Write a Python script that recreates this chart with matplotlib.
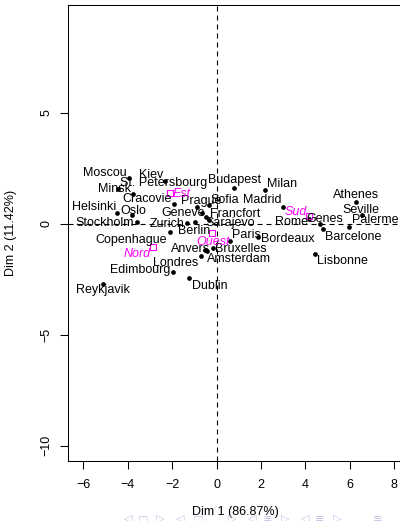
import matplotlib
matplotlib.use("Agg")
import matplotlib.pyplot as plt

plt.rcParams["font.family"] = ["Liberation Sans", "DejaVu Sans"]

# Individuals factor map: cities on the first two PCA dimensions
cities = ["Moscou", "Minsk", "Kiev", "St. Petersbourg", "Helsinki", "Oslo",
          "Stockholm", "Cracovie", "Prague", "Sofia", "Geneve", "Francfort",
          "Sarajevo", "Zurich", "Berlin", "Copenhague", "Bruxelles", "Anvers",
          "Londres", "Amsterdam", "Edimbourg", "Dublin", "Reykjavik",
          "Budapest", "Milan", "Madrid", "Paris", "Bordeaux", "Rome", "Genes",
          "Barcelone", "Palerme", "Athenes", "Seville", "Lisbonne"]
dim1 = [-3.95, -4.45, -3.75, -2.32, -4.49, -3.80,
        -3.60, -1.90, -0.87, -0.36, -0.67, -0.48,
        -0.33, -1.35, -0.97, -2.10, -0.18, -0.52,
        -0.70, -0.45, -1.95, -1.23, -5.13,
        0.80, 2.18, 3.01, 0.58, 1.88, 4.18, 4.66,
        4.78, 5.98, 6.27, 6.53, 4.43]
dim2 = [2.05, 1.55, 1.34, 1.92, 0.48, 0.37,
        0.08, 0.87, 0.74, 0.84, 0.48, 0.29,
        0.18, 0.03, 0.06, -0.39, -1.08, -1.18,
        -1.44, -1.25, -2.16, -2.46, -2.73,
        1.62, 1.52, 0.75, -0.76, -0.62, 0.23, -0.01,
        -0.25, -0.15, 0.98, 0.37, -1.38]

# Supplementary categories (area barycentres)
areas = ["Est", "Nord", "Ouest", "Sud"]
area_dim1 = [-2.10, -2.85, -0.19, 4.15]
area_dim2 = [1.38, -1.04, -0.44, 0.33]

xticks = [-6, -4, -2, 0, 2, 4, 6, 8]
yticks = [-10, -5, 0, 5]
xlabel = "Dim 1 (86.87%)"
ylabel = "Dim 2 (11.42%)"

# Label placement (pixel offsets of the text's left/baseline from its point)
city_label_offset = {
    "Moscou": (-46.3, 2.3), "Kiev": (5.7, 15.7), "St. Petersbourg": (-45, -4.7),
    "Minsk": (-19.4, -2.4), "Cracovie": (-51.8, 2.0), "Helsinki": (-45.3, 3.0),
    "Oslo": (-12.3, 1.5), "Stockholm": (-61.7, -3.7), "Prague": (-16.6, 3.6),
    "Sofia": (1.5, 2.3), "Geneve": (-40, -2.7), "Francfort": (4, 0),
    "Sarajevo": (-4.3, -6.3), "Zurich": (-36.7, -3.7), "Berlin": (-16.7, -11.7),
    "Copenhague": (-75, -10.4), "Anvers": (-34, -1.7), "Bruxelles": (2.3, -4),
    "Londres": (-47.7, -10), "Amsterdam": (0.2, -10.2), "Edimbourg": (-63.3, -1.6),
    "Dublin": (2.4, -11), "Reykjavik": (-26.7, -9), "Budapest": (-26, 4.4),
    "Milan": (1.7, 3.3), "Madrid": (-40.2, 3.7), "Paris": (2.2, 2.2),
    "Bordeaux": (2.4, -4.2), "Rome": (-34.5, -6.5), "Genes": (-13.3, 2.3),
    "Barcelone": (2.3, -10.7), "Palerme": (2.4, 3.7), "Athenes": (-22.7, 3.7),
    "Seville": (-18.8, 2.2), "Lisbonne": (1.7, -9.7),
}
area_label_offset = {
    "Est": (2.7, -4.3), "Nord": (-29.3, -10), "Ouest": (-16.3, -11.2),
    "Sud": (-23.7, 1.3),
}

W, H, DPI = 400, 521, 100
fig = plt.figure(figsize=(W / DPI, H / DPI), dpi=DPI)
ax = fig.add_axes([68.3 / W, (H - 460.7) / H, 334.4 / W, 455.7 / H])
ax.set_xlim(-6.68, 8.38)
ax.set_ylim(-10.68, 9.85)

ax.axhline(0, color="black", lw=0.8, ls=(0, (4.5, 3.6)), zorder=1)
ax.axvline(0, color="black", lw=0.8, ls=(0, (4.5, 3.6)), zorder=1)

ax.plot(dim1, dim2, "o", color="black", ms=3.4, mew=0, zorder=3)
ax.plot(area_dim1, area_dim2, "s", mfc="none", mec="#ff00ff", ms=4.0,
        mew=0.8, zorder=3)

for name, x, y in zip(cities, dim1, dim2):
    ax.annotate(name, (x, y), xytext=city_label_offset[name],
                textcoords="offset pixels", ha="left", va="baseline",
                fontsize=9, color="black", zorder=4)
for name, x, y in zip(areas, area_dim1, area_dim2):
    ax.annotate(name, (x, y), xytext=area_label_offset[name],
                textcoords="offset pixels", ha="left", va="baseline",
                fontsize=9, color="#ff00ff", style="italic", zorder=4)

ax.set_xticks(xticks)
ax.set_yticks(yticks)
ax.tick_params(direction="out", length=5.5, width=0.75, labelsize=9)
ax.tick_params(axis="x", pad=8)
ax.tick_params(axis="y", pad=6, labelrotation=90)
for lab in ax.get_yticklabels():
    lab.set_va("center")

for side in ["left", "bottom", "top", "right"]:
    ax.spines[side].set_linewidth(0.75)

ax.set_xlabel(xlabel, fontsize=9)
ax.xaxis.set_label_coords(0.5, -0.1)
ax.set_ylabel(ylabel, fontsize=9)
ax.yaxis.set_label_coords(-0.152, 0.5)

# Slide navigation glyphs along the lower edge
nav = [(128, "\u25c1"), (143, "\u25a1"), (160, "\u25b7"), (180, "\u25c1"),
       (198, "\u25a1"), (232, "\u25b7"), (252, "\u25c1"), (268, "\u2261"),
       (285, "\u25b7"), (305, "\u25c1"), (320, "\u2261"), (337, "\u25b7"),
       (378, "\u2261")]
for px, ch in nav:
    fig.text(px / W, 1 - 519 / H, ch, fontsize=8, color="#c4c4ea",
             ha="center", va="center", family="DejaVu Sans", zorder=0)

fig.savefig("out.png", dpi=DPI)
